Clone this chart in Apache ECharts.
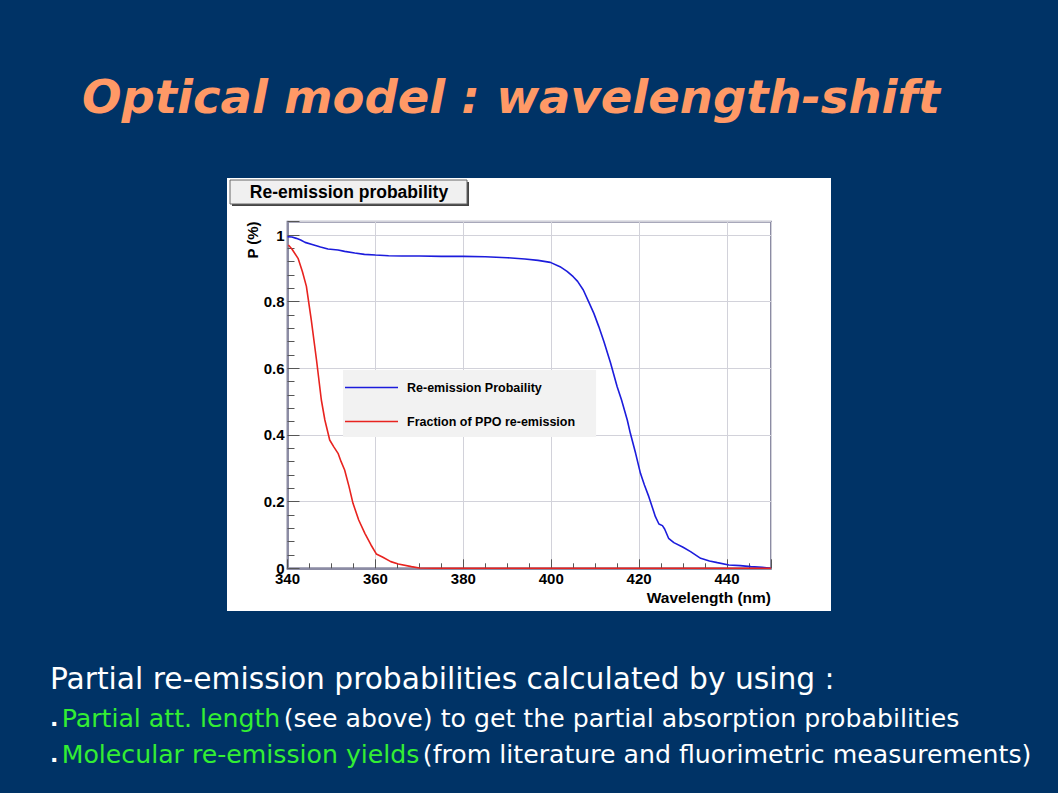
<!DOCTYPE html>
<html>
<head>
<meta charset="utf-8">
<style>
html,body{margin:0;padding:0;background:#003366;}
#c{width:1058px;height:793px;}
</style>
<script src="https://cdn.jsdelivr.net/npm/echarts@6/dist/echarts.min.js"></script>
</head>
<body>
<div id="c"></div>
<script>
// Data
const blueX = [340,341,342,343,344,345.8,347.5,349.2,351.5,353,355.3,357.5,360,363,366,370,375,380,385,390,394,397,399.8,402,403.6,405,406,407.3,408.5,409.7,410.8,412,413.5,415,416,417.3,418,419.2,420.3,421.2,422.2,423.7,424.5,425.3,425.8,426.7,427.9,430,431.7,434,436,437.8,440.4,443,445.4,448,450];
const blueY = [0.995,0.994,0.990,0.985,0.978,0.971,0.964,0.958,0.955,0.951,0.946,0.942,0.940,0.938,0.937,0.937,0.936,0.936,0.935,0.932,0.928,0.924,0.918,0.905,0.891,0.875,0.861,0.835,0.80,0.765,0.726,0.68,0.616,0.545,0.505,0.445,0.405,0.345,0.285,0.25,0.215,0.155,0.133,0.128,0.118,0.09,0.077,0.063,0.05,0.03,0.022,0.017,0.01,0.008,0.005,0.003,0.0];
const redX = [340.2,341,342.4,343.4,344.3,345.4,346.6,347.7,348.5,349.6,350.5,351.5,352.2,353,354,354.9,356.2,357.6,359,360.2,361.7,363.5,365.2,368.2,370,375,450];
const redY = [0.97,0.958,0.93,0.89,0.846,0.746,0.625,0.505,0.445,0.385,0.365,0.345,0.32,0.295,0.245,0.195,0.145,0.105,0.07,0.043,0.033,0.02,0.013,0.005,0.001,0,0];
const seriesNames = ['Re-emission Probaility','Fraction of PPO re-emission'];
const xTicks = {min:340, max:450, interval:20};
const yTicks = {min:0, max:1.04, interval:0.2};

const chart = echarts.init(document.getElementById('c'), null, {renderer:'svg'});
const frame = '#8c8ca4';
const bold15 = {fontFamily:'Liberation Sans, Arial, sans-serif', fontWeight:'bold', fontSize:15, color:'#000'};
const bodyFont = '"DejaVu Sans", sans-serif';
const bs = 25.2;
chart.setOption({
  backgroundColor:'#003366',
  animation:false,
  graphic:[
    {type:'rect', z:-10, shape:{x:227,y:178,width:604,height:433}, style:{fill:'#ffffff'}},
    {type:'rect', z:5, shape:{x:232,y:182,width:237,height:24}, style:{fill:'#444'}},
    {type:'rect', z:6, shape:{x:230,y:180,width:237,height:24}, style:{fill:'#f0f0f0', stroke:'#666', lineWidth:1}},
    {type:'text', z:7, style:{x:349, y:192, text:'Re-emission probability', align:'center', verticalAlign:'middle', font:'bold 17.5px "Liberation Sans", Arial, sans-serif', fill:'#000'}},
    {type:'text', z:7, rotation:Math.PI/2, x:252, y:240, style:{x:0, y:0, text:'P (%)', align:'center', verticalAlign:'middle', font:'bold 15px "Liberation Sans", Arial, sans-serif', fill:'#000'}},
    {type:'text', z:7, style:{x:771, y:597, text:'Wavelength (nm)', align:'right', verticalAlign:'middle', font:'bold 15.5px "Liberation Sans", Arial, sans-serif', fill:'#000'}},
    {type:'text', z:7, style:{x:511, y:97, text:'Optical model : wavelength-shift', align:'center', verticalAlign:'middle', font:'italic bold 46.5px "DejaVu Sans", sans-serif', fill:'#ff9966'}},
    {type:'text', z:7, style:{x:50, y:678, text:'Partial re-emission probabilities calculated by using :', align:'left', verticalAlign:'middle', font:'29.7px ' + bodyFont, fill:'#ffffff'}},
    {type:'text', z:7, style:{x:50, y:718, align:'left', verticalAlign:'middle',
      text:'{d|.} {g|Partial att. length} {w|(see above) to get the partial absorption probabilities}',
      rich:{d:{fontSize:22, fontWeight:'bold', fill:'#fff', fontFamily:bodyFont}, g:{fontSize:bs, fill:'#33ee33', fontFamily:bodyFont}, w:{fontSize:bs, fill:'#fff', fontFamily:bodyFont}}}},
    {type:'text', z:7, style:{x:50, y:754, align:'left', verticalAlign:'middle',
      text:'{d|.} {g|Molecular re-emission yields} {w|(from literature and fluorimetric measurements)}',
      rich:{d:{fontSize:22, fontWeight:'bold', fill:'#fff', fontFamily:bodyFont}, g:{fontSize:bs, fill:'#33ee33', fontFamily:bodyFont}, w:{fontSize:bs, fill:'#fff', fontFamily:bodyFont}}}}
  ],
  grid:{left:287.5, right:287, top:221.7, bottom:224.7, show:true, borderColor:frame, borderWidth:2, backgroundColor:'transparent'},
  legend:{
    data:seriesNames, orient:'vertical', left:343, top:370, icon:'rect', itemWidth:53, itemHeight:1.5,
    itemGap:21, padding:[11,21,9,2], backgroundColor:'#f2f2f2', borderWidth:0,
    textStyle:{fontFamily:'Liberation Sans, Arial, sans-serif', fontWeight:'bold', fontSize:12.5, color:'#000', padding:[0,0,0,4]},
    selectedMode:false
  },
  xAxis:{
    type:'value', min:xTicks.min, max:xTicks.max, interval:xTicks.interval,
    axisLine:{show:true, onZero:false, lineStyle:{color:frame, width:2}},
    axisTick:{show:true, inside:true, length:9, lineStyle:{color:'#555'}},
    minorTick:{show:true, splitNumber:4, length:5, lineStyle:{color:'#555'}},
    splitLine:{show:true, lineStyle:{color:'#d2d2da', width:1}},
    axisLabel:{...bold15, margin:3, showMaxLabel:false}
  },
  yAxis:{
    type:'value', min:yTicks.min, max:yTicks.max, interval:yTicks.interval,
    axisLine:{show:true, lineStyle:{color:frame, width:2}},
    axisTick:{show:true, inside:true, length:12, lineStyle:{color:'#555'}},
    minorTick:{show:true, splitNumber:5, length:7, lineStyle:{color:'#555'}},
    splitLine:{show:true, lineStyle:{color:'#d2d2da', width:1}},
    axisLabel:{...bold15, margin:3, showMaxLabel:false, formatter:v => (Math.abs(v*5 - Math.round(v*5))<1e-6 ? String(+v.toFixed(1)) : '')}
  },
  series:[
    {name:seriesNames[0], type:'line', data:blueX.map((x,i)=>[x,blueY[i]]), showSymbol:false, symbol:'none', smooth:false, lineStyle:{color:'#1c1cdc', width:1.6}, itemStyle:{color:'#1c1cdc'}, z:3},
    {name:seriesNames[1], type:'line', data:redX.map((x,i)=>[x,redY[i]]), showSymbol:false, symbol:'none', smooth:false, lineStyle:{color:'#e8231f', width:1.6}, itemStyle:{color:'#e8231f'}, z:4}
  ]
});
</script>
</body>
</html>
